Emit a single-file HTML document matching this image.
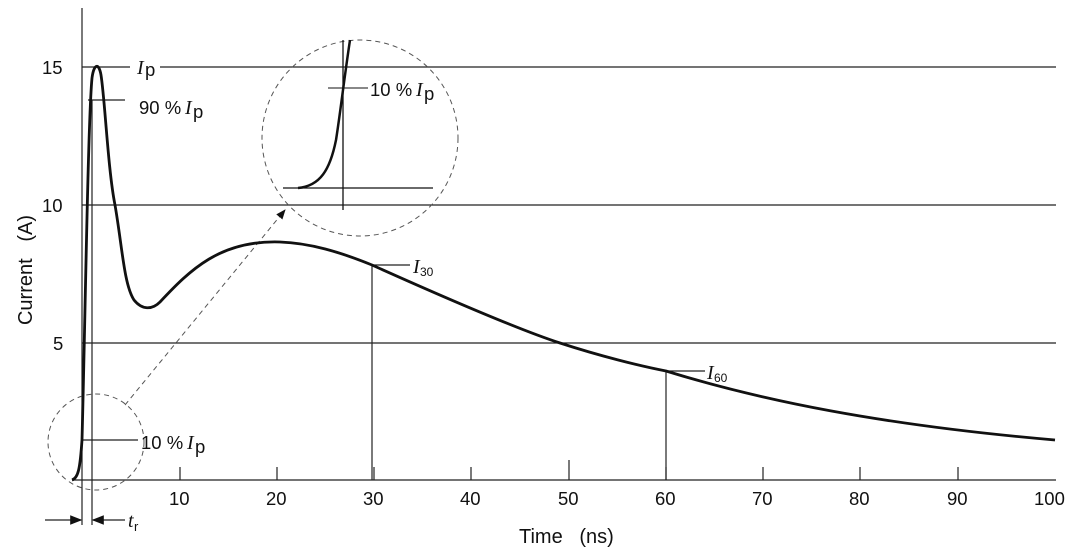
<!DOCTYPE html>
<html><head><meta charset="utf-8"><style>
body{margin:0;background:#fff}
svg{display:block}
text{font-family:"Liberation Sans",sans-serif;font-size:18.5px;fill:#111}
.i{font-family:"Liberation Serif",serif;font-style:italic;font-size:20px}
.t{font-size:20px}
</style></head><body>
<svg width="1080" height="551" viewBox="0 0 1080 551">
<defs><marker id="ah" markerWidth="10" markerHeight="8" refX="9" refY="4" orient="auto"><path d="M0,0 L10,4 L0,8 z" fill="#111"/></marker></defs>
<g stroke="#222" stroke-width="1.2" fill="none">
<line x1="82" y1="8" x2="82" y2="525"/>
<line x1="72" y1="480" x2="1056" y2="480"/>
<line x1="82" y1="67" x2="130" y2="67"/><line x1="160" y1="67" x2="1056" y2="67"/>
<line x1="82" y1="205" x2="1056" y2="205"/>
<line x1="82" y1="343" x2="1056" y2="343"/>
<line x1="92" y1="100" x2="92" y2="525"/>
<line x1="88" y1="100" x2="125" y2="100"/>
<line x1="82" y1="440" x2="138" y2="440"/>
<line x1="180" y1="467" x2="180" y2="480"/><line x1="277" y1="467" x2="277" y2="480"/><line x1="374" y1="467" x2="374" y2="480"/><line x1="471" y1="467" x2="471" y2="480"/><line x1="569" y1="460" x2="569" y2="480"/><line x1="666" y1="467" x2="666" y2="480"/><line x1="763" y1="467" x2="763" y2="480"/><line x1="860" y1="467" x2="860" y2="480"/><line x1="958" y1="467" x2="958" y2="480"/>
<line x1="372" y1="265" x2="372" y2="480"/><line x1="372" y1="265" x2="410" y2="265"/>
<line x1="666" y1="371" x2="666" y2="480"/><line x1="666" y1="371" x2="705" y2="371"/>
<line x1="45" y1="520" x2="81" y2="520" marker-end="url(#ah)"/>
<line x1="125" y1="520" x2="93" y2="520" marker-end="url(#ah)"/>
</g>
<g stroke="#555" stroke-width="1" fill="none" stroke-dasharray="5,4">
<circle cx="96" cy="442" r="48"/>
<circle cx="360" cy="138" r="98"/>
<line x1="125" y1="405" x2="285" y2="210" marker-end="url(#ah)"/>
</g>
<g stroke="#111" fill="none">
<line x1="283" y1="188" x2="433" y2="188" stroke-width="1.3"/>
<line x1="343" y1="40" x2="343" y2="210" stroke-width="1.3"/>
<line x1="328" y1="88" x2="368" y2="88" stroke-width="1"/>
<path d="M298,188 C320,186 330,170 336,140 C340,115 344,80 350,40" stroke-width="2.5"/>
<path d="M72,480 C78,478 80,470 82,440 C85,330 88,120 92,78 C94,63 99,63 101,75 C105,100 108,170 115,205 C122,245 124,285 134,300 C142,310 152,310 160,302 C190,270 220,240 280,242 C310,243 340,252 372,265 C450,300 520,330 560,343 C600,356 640,366 666,371 C760,400 880,425 1055,440" stroke-width="2.8"/>
</g>
<text x="42" y="74">15</text><text x="42" y="212">10</text><text x="53" y="350">5</text>
<text x="169" y="505">10</text><text x="266" y="505">20</text><text x="363" y="505">30</text><text x="460" y="505">40</text><text x="558" y="505">50</text><text x="655" y="505">60</text><text x="752" y="505">70</text><text x="849" y="505">80</text><text x="947" y="505">90</text><text x="1034" y="505">100</text>
<text class="t" x="519" y="543">Time&#160;&#160;&#160;(ns)</text>
<text class="t" transform="translate(32,270) rotate(-90)" text-anchor="middle">Current&#160;&#160;&#160;(A)</text>
<text class="i" x="137" y="74">I</text><text x="145" y="76">p</text>
<text x="139" y="114">90 % </text><text class="i" x="185" y="114">I</text><text x="193" y="118">p</text>
<text x="141" y="449">10 % </text><text class="i" x="187" y="449">I</text><text x="195" y="453">p</text>
<text x="370" y="96">10 % </text><text class="i" x="416" y="96">I</text><text x="424" y="100">p</text>
<text class="i" x="413" y="273">I</text><text x="420" y="276" style="font-size:12px">30</text>
<text class="i" x="707" y="379">I</text><text x="714" y="382" style="font-size:12px">60</text>
<text class="i" x="128" y="527">t</text><text x="134" y="531" style="font-size:13px">r</text>
</svg>
</body></html>
